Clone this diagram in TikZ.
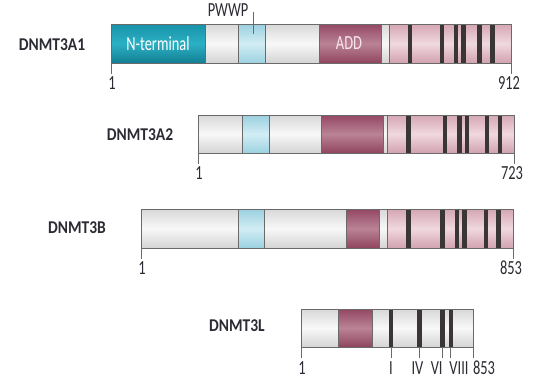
\documentclass[tikz,border=0pt]{standalone}
\usepackage{fontspec}
\usepackage{graphicx}
\setmainfont{Carlito}
\usetikzlibrary{calc}
\definecolor{txt}{HTML}{2B2B33}
\definecolor{outl}{HTML}{6A6A6A}
\definecolor{bandc}{HTML}{3A3636}
\definecolor{wt}{HTML}{D8D8D8}\definecolor{wm}{HTML}{F8F8F8}\definecolor{wb}{HTML}{D4D4D4}
\definecolor{tt}{HTML}{1792A8}\definecolor{tm}{HTML}{2CB0C4}\definecolor{tb}{HTML}{137F93}
\definecolor{bt}{HTML}{9AD0E0}\definecolor{bm}{HTML}{D2EDF4}\definecolor{bb}{HTML}{9CD2E1}
\definecolor{at}{HTML}{944763}\definecolor{am}{HTML}{BA8396}\definecolor{ab}{HTML}{90455E}
\definecolor{pt}{HTML}{D5A6B4}\definecolor{pm}{HTML}{F0D8DF}\definecolor{pb}{HTML}{D2A2B0}
\tikzset{
  segline/.style={draw=outl, line width=0.8pt},
  whiteseg/.style={top color=wt, bottom color=wb, middle color=wm},
  tealseg/.style={top color=tt, bottom color=tb, middle color=tm},
  blueseg/.style={top color=bt, bottom color=bb, middle color=bm},
  addseg/.style={top color=at, bottom color=ab, middle color=am},
  pinkseg/.style={top color=pt, bottom color=pb, middle color=pm},
  bandfill/.style={fill=bandc},
  ticklin/.style={draw=outl, line width=0.8pt},
  protname/.style={font=\bfseries\fontsize{18}{18}\selectfont, text=txt, inner sep=0pt},
  numlab/.style={font=\fontsize{20}{20}\selectfont, text=txt, inner sep=0pt, anchor=north},
  inlab/.style={font=\fontsize{20}{20}\selectfont, text=white, inner sep=0pt}
}
\newcommand{\segbox}[5]{\shade[#5] (#1,#3) rectangle (#2,#4); \draw[segline] (#1,#3) rectangle (#2,#4);}
\newcommand{\bandat}[3]{\fill[bandfill] (#1-2.2,#2) rectangle (#1+2.2,#3);}
\newcommand{\cnd}[1]{\scalebox{0.72}[1]{#1}}
\newcommand{\cndb}[1]{\scalebox{0.86}[1]{#1}}
\begin{document}
\begin{tikzpicture}[x=1pt,y=-1pt]
\useasboundingbox[fill=white] (0,0) rectangle (538,389);

% ---------- DNMT3A1 ----------
\segbox{111}{205}{24}{63}{tealseg}
\segbox{205}{238}{24}{63}{whiteseg}
\segbox{238}{265}{24}{63}{blueseg}
\segbox{265}{319}{24}{63}{whiteseg}
\segbox{319}{381}{24}{63}{addseg}
\segbox{381}{389}{24}{63}{whiteseg}
\segbox{389}{511}{24}{63}{pinkseg}
\foreach \x in {410,441.7,455.7,463.3,479.3,492.3}{\bandat{\x}{24}{63}}
\draw[segline] (111,24) rectangle (511,63);
\node[protname] (a1) at (52,45) {\cndb{DNMT3A1}};
\node[inlab] (nterm) at (158,44) {\cnd{N-terminal}};
\node[inlab, text=white!90!purple] (add1) at (349,43) {\cnd{ADD}};
\node[font=\fontsize{20}{20}\selectfont, text=txt, inner sep=0pt] (pwwp) at (228,10) {\cnd{PWWP}};
\coordinate (pw1) at (253,12);
\coordinate (pw2) at (253,34);
\draw[ticklin] (pw1) -- (pw2);
\coordinate (a1s) at (111,63); \coordinate (a1se) at (111,74);
\coordinate (a1e) at (511,63); \coordinate (a1ee) at (511,74);
\draw[ticklin] (a1s) -- (a1se);
\draw[ticklin] (a1e) -- (a1ee);
\node[numlab] (a1n1) at (112,76) {\cnd{1}};
\node[numlab] (a1n2) at (509,76) {\cnd{912}};

% ---------- DNMT3A2 ----------
\segbox{198}{242}{115}{153}{whiteseg}
\segbox{242}{269}{115}{153}{blueseg}
\segbox{269}{321}{115}{153}{whiteseg}
\segbox{321}{383}{115}{153}{addseg}
\segbox{383}{387}{115}{153}{whiteseg}
\segbox{387}{514}{115}{153}{pinkseg}
\foreach \x in {408.3,445,459.3,466.7,486.7,500}{\bandat{\x}{115}{153}}
\draw[segline] (198,115) rectangle (514,153);
\node[protname] (a2) at (140,135) {\cndb{DNMT3A2}};
\coordinate (a2s) at (198,153); \coordinate (a2se) at (198,164);
\coordinate (a2e) at (514,153); \coordinate (a2ee) at (514,164);
\draw[ticklin] (a2s) -- (a2se);
\draw[ticklin] (a2e) -- (a2ee);
\node[numlab] (a2n1) at (199,166) {\cnd{1}};
\node[numlab] (a2n2) at (512,166) {\cnd{723}};

% ---------- DNMT3B ----------
\segbox{141}{238}{209}{248}{whiteseg}
\segbox{238}{264}{209}{248}{blueseg}
\segbox{264}{346}{209}{248}{whiteseg}
\segbox{346}{379}{209}{248}{addseg}
\segbox{379}{387}{209}{248}{whiteseg}
\segbox{387}{513}{209}{248}{pinkseg}
\foreach \x in {408.3,442.3,456.7,464.3,485.7,498.3}{\bandat{\x}{209}{248}}
\draw[segline] (141,209) rectangle (513,248);
\node[protname] (b) at (77,227.5) {\cndb{DNMT3B}};
\coordinate (bs) at (141,248); \coordinate (bse) at (141,259);
\coordinate (be) at (513,248); \coordinate (bee) at (513,259);
\draw[ticklin] (bs) -- (bse);
\draw[ticklin] (be) -- (bee);
\node[numlab] (bn1) at (142,261) {\cnd{1}};
\node[numlab] (bn2) at (511,261) {\cnd{853}};

% ---------- DNMT3L ----------
\segbox{301}{338}{309}{347}{whiteseg}
\segbox{338}{372}{309}{347}{addseg}
\segbox{372}{473}{309}{347}{whiteseg}
\foreach \x in {391,419.3,442.3,450.7}{\bandat{\x}{309}{347}}
\draw[segline] (301,309) rectangle (473,347);
\node[protname] (l) at (237,326) {\cndb{DNMT3L}};
\foreach \x/\n in {301/ls,391/l1,419.3/l4,442.3/l6,450.7/l8,473/le}{
  \coordinate (\n a) at (\x,347); \coordinate (\n b) at (\x,358);
  \draw[ticklin] (\n a) -- (\n b);
}
\node[numlab] (ln1) at (302,361) {\cnd{1}};
\node[numlab] (lnI) at (391,361) {\cnd{I}};
\node[numlab] (lnIV) at (417.5,361) {\cnd{IV}};
\node[numlab] (lnVI) at (436.7,361) {\cnd{VI}};
\node[numlab] (lnVIII) at (459,361) {\cnd{VIII}};
\node[numlab] (lnE) at (484,361) {\cnd{853}};
\end{tikzpicture}
\end{document}
